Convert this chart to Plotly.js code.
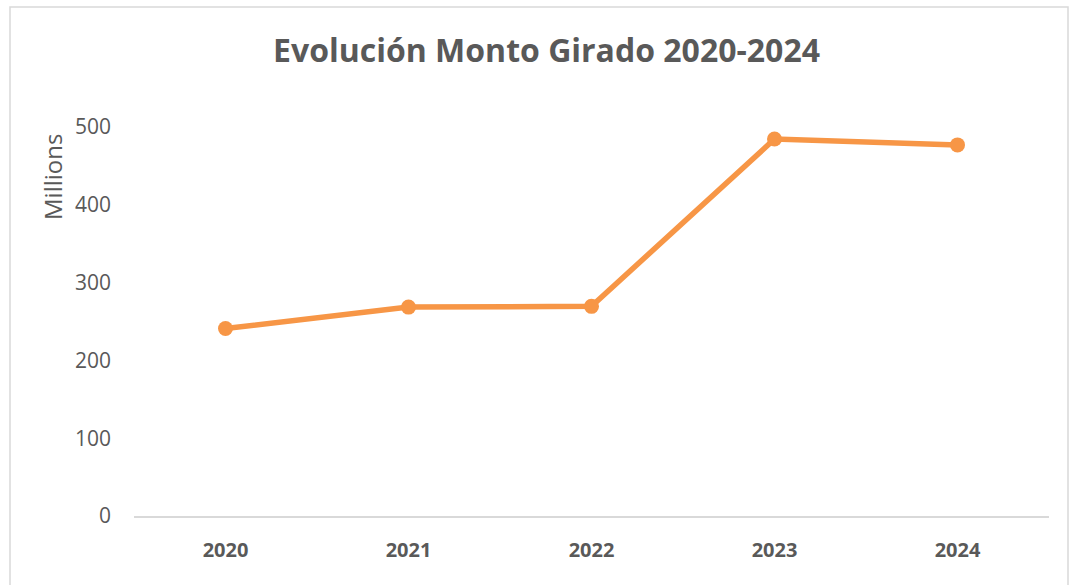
<!DOCTYPE html>
<html><head><meta charset="utf-8">
<script src="https://cdn.plot.ly/plotly-3.0.1.min.js"></script>
<style>html,body{margin:0;padding:0;background:#fff;}#chart{width:1071px;height:585px;}</style>
</head><body><div id="chart"></div>
<script>
const years = ["2020", "2021", "2022", "2023", "2024"];
const montoMillones = [241, 268.5, 269.5, 484.5, 477];
const yTicks = [0, 100, 200, 300, 400, 500];

const L = 134, R = 1049, T = 127, B = 516, W = 1071, H = 585;
const pw = R - L, ph = B - T;
const px = v => (v - L) / pw;
const py = v => (B - v) / ph;

const trace = {
  x: years, y: montoMillones, type: 'scatter', mode: 'lines+markers',
  line: {color: '#F79646', width: 5.5},
  marker: {color: '#F79646', size: 15},
  hoverinfo: 'x+y'
};

const layout = {
  width: W, height: H,
  margin: {l: L, r: W - R, t: T, b: H - B, pad: 0},
  paper_bgcolor: '#fff', plot_bgcolor: '#fff',
  showlegend: false,
  title: {text: '<b>Evolución Monto Girado 2020-2024</b>', x: 546.5 / W, xanchor: 'center', y: 1 - 51 / H, yanchor: 'middle',
    font: {family: 'Open Sans, sans-serif', size: 32, color: '#595959'}},
  xaxis: {type: 'category', range: [-0.5, 4.5], showgrid: false, zeroline: false,
    showline: true, linecolor: '#D9D9D9', linewidth: 1.5, ticks: '',
    tickfont: {family: 'Open Sans, sans-serif', size: 20, color: '#595959', weight: 'bold'},
    ticklabelstandoff: 15},
  yaxis: {range: [0, 500], tickvals: yTicks, showgrid: false, zeroline: false, showline: false, ticks: '',
    tickfont: {family: 'Open Sans, sans-serif', size: 21, color: '#595959'}, ticklabelstandoff: 22},
  annotations: [{text: 'Millions', xref: 'paper', yref: 'paper', x: px(52), y: py(177), textangle: -90,
    showarrow: false, xanchor: 'center', yanchor: 'middle',
    font: {family: 'Open Sans, sans-serif', size: 24, color: '#595959'}}],
  shapes: [{type: 'rect', xref: 'paper', yref: 'paper', x0: px(10), x1: px(1068), y0: py(590), y1: py(7),
    line: {color: '#D9D9D9', width: 1.5}, fillcolor: 'rgba(0,0,0,0)', layer: 'below'}]
};

Plotly.newPlot('chart', [trace], layout, {displayModeBar: false, staticPlot: true});
</script></body></html>
